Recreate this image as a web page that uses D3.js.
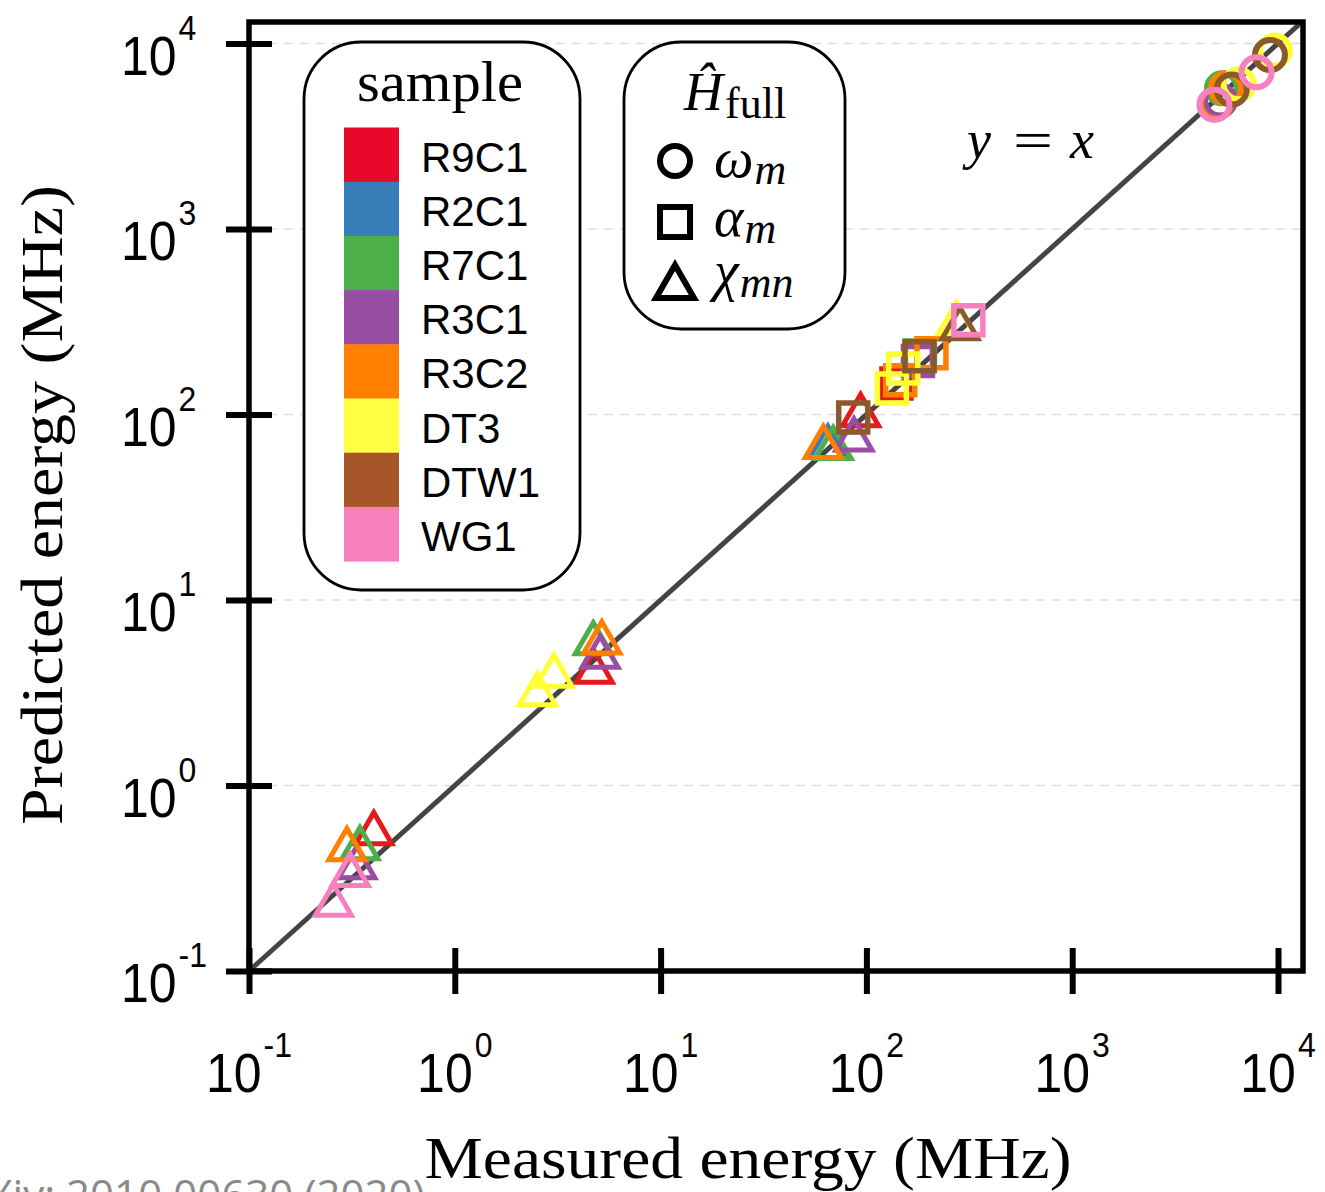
<!DOCTYPE html>
<html><head><meta charset="utf-8">
<script src="https://cdn.jsdelivr.net/npm/d3@7"></script>
<style>body{margin:0;background:#fff;} svg{display:block;}</style>
</head><body><svg id="chart" width="1325" height="1192"></svg>
<script>
// ---------------- data ----------------
const samples = ["R9C1","R2C1","R7C1","R3C1","R3C2","DT3","DTW1","WG1"];
const swatchColors = ["#e8092a","#377eb8","#4daf4a","#984ea3","#ff7f00","#ffff44","#a65628","#f781bf"];
const markerColors = ["#e41a1c","#377eb8","#4daf4a","#984ea3","#ff7f00","#ffff33","#8b5a2b","#f781bf"];
// [measured, predicted] in MHz, one list per sample (same order as samples)
const omegaM = [
  [], [], [[5340,5730]], [[5230,4930]], [[5590,5730],[5000,4750]],
  [[9660,9160],[6440,6030]], [[9140,8670],[5960,5650]], [[7870,7000],[4910,4670]]
];
const alphaM = [
  [[140,147]], [], [[182,208]], [[178,194]], [[207,214],[146,153]],
  [[151,177],[133,138]], [[181,206],[86.3,96.2]], [[313,322]]
];
const chiMN = [
  [[93.7,99],[4.76,4.10],[0.404,0.552]], [[65,66.8]],
  [[69,65.8],[4.71,5.83],[0.346,0.458]], [[87,73.3],[5.08,4.93],[0.334,0.362]],
  [[61.8,66.8],[5.18,5.90],[0.299,0.453]], [[274,310],[3.03,3.90],[2.52,3.10]],
  [[285,291]], [[0.310,0.329],[0.257,0.227]]
];
const tickValues = [0.1,1,10,100,1000,10000];
const tickExponents = ["-1","0","1","2","3","4"];
const shapeNames = ["ω","α","χ"];
const shapeSubs = ["m","m","mn"];

// ---------------- layout ----------------
const svg = d3.select("#chart");
const L = 249, R = 1303, T = 22, B = 971;
const x = d3.scaleLog().domain([0.1, 10000]).range([L, 1278]);
const y = d3.scaleLog().domain([0.1, 10000]).range([B, 43.5]);
const SANS = "'Liberation Sans', Arial, sans-serif";
const SERIF = "'Liberation Serif', 'Times New Roman', serif";

svg.append("rect").attr("width",1325).attr("height",1192).attr("fill","#fff");

svg.append("defs").append("clipPath").attr("id","plotclip")
  .append("rect").attr("x",L).attr("y",T).attr("width",R-L).attr("height",B-T);

// gridlines
svg.append("g").selectAll("line").data(tickValues.slice(1)).join("line")
  .attr("x1",L+3).attr("x2",R-3).attr("y1",d=>y(d)).attr("y2",d=>y(d))
  .attr("stroke","#dedede").attr("stroke-width",1.5).attr("stroke-dasharray","9,7");

// y = x line
const xMax = x.invert(R), yMax = y.invert(T);
const lm = Math.max(xMax, yMax);
svg.append("line").attr("clip-path","url(#plotclip)")
  .attr("x1",x(0.1)).attr("y1",y(0.1)).attr("x2",x(lm)).attr("y2",y(lm))
  .attr("stroke","#444").attr("stroke-width",5);

// markers
const symCircle = d3.symbol(d3.symbolCircle, Math.PI*15*15)();
const symSquare = d3.symbol(d3.symbolSquare, 29*29)();
const symTri = d3.symbol(d3.symbolTriangle, Math.sqrt(3)/4*36*36)();
const markG = svg.append("g");
samples.forEach((s,i)=>{
  const g = markG.append("g").attr("fill","none").attr("stroke",markerColors[i])
    .attr("stroke-linejoin","miter");
  [[omegaM,symCircle,6],[alphaM,symSquare,5.5],[chiMN,symTri,5]].forEach(([arr,sym,sw])=>{
    g.selectAll(null).data(arr[i]).join("path")
      .attr("d",sym).attr("stroke-width",sw)
      .attr("transform",d=>`translate(${x(d[0])},${y(d[1])})`);
  });
});

// frame
svg.append("rect").attr("x",L).attr("y",T).attr("width",R-L).attr("height",B-T)
  .attr("fill","none").attr("stroke","#000").attr("stroke-width",5.5);

// axes (ticks crossing the axis line)
const xAxis = svg.append("g").attr("transform",`translate(0,${B})`)
  .call(d3.axisBottom(x).tickValues(tickValues).tickSizeInner(23).tickSizeOuter(0).tickFormat(()=>""));
xAxis.select(".domain").remove();
xAxis.selectAll(".tick line").attr("y1",-23).attr("y2",23).attr("stroke","#000").attr("stroke-width",6);
const yAxis = svg.append("g").attr("transform",`translate(${L},0)`)
  .call(d3.axisLeft(y).tickValues(tickValues).tickSizeInner(23).tickSizeOuter(0).tickFormat(()=>""));
yAxis.select(".domain").remove();
yAxis.selectAll(".tick line").attr("x1",-23).attr("x2",23).attr("stroke","#000").attr("stroke-width",6);

// tick labels
const sy = 1.12;
tickValues.forEach((v,i)=>{
  const t = svg.append("text").attr("font-family",SANS).attr("font-size",50).attr("fill","#000")
    .attr("text-anchor","middle")
    .attr("transform",`translate(${x(v)},1092) scale(1,${sy})`);
  t.append("tspan").text("10");
  t.append("tspan").attr("font-size",32).attr("dy",-35/sy).attr("dx",2).text(tickExponents[i]);
  const u = svg.append("text").attr("font-family",SANS).attr("font-size",50).attr("fill","#000")
    .attr("transform",`translate(121,${y(v)+31}) scale(1,${sy})`);
  u.append("tspan").text("10");
  u.append("tspan").attr("font-size",32).attr("dy",-35/sy).attr("dx",2).text(tickExponents[i]);
});

// axis titles
svg.append("text").attr("x",748).attr("y",1178).attr("text-anchor","middle")
  .attr("font-family",SERIF).attr("font-size",60).attr("textLength",647).attr("lengthAdjust","spacingAndGlyphs")
  .text("Measured energy (MHz)");
svg.append("text").attr("transform","translate(62,505) rotate(-90)").attr("text-anchor","middle")
  .attr("font-family",SERIF).attr("font-size",60).attr("textLength",640).attr("lengthAdjust","spacingAndGlyphs")
  .text("Predicted energy (MHz)");

// legend 1 : samples
const lg1 = svg.append("g");
lg1.append("rect").attr("x",304).attr("y",42).attr("width",276).attr("height",548).attr("rx",57).attr("ry",57)
  .attr("fill","#fff").attr("stroke","#000").attr("stroke-width",2.8);
lg1.append("text").attr("x",440).attr("y",101).attr("text-anchor","middle").attr("font-family",SERIF)
  .attr("font-size",56).attr("textLength",166).attr("lengthAdjust","spacingAndGlyphs").text("sample");
const swH = 54.2, sw0 = 127.5;
samples.forEach((s,i)=>{
  lg1.append("rect").attr("x",344).attr("y",sw0+i*swH).attr("width",55).attr("height",swH+0.5)
    .attr("fill",swatchColors[i]);
  lg1.append("text").attr("x",421).attr("y",sw0+i*swH+swH/2+17).attr("font-family",SANS)
    .attr("font-size",42).text(s);
});

// legend 2 : shapes
const lg2 = svg.append("g");
lg2.append("rect").attr("x",624).attr("y",42).attr("width",221).attr("height",287).attr("rx",57).attr("ry",57)
  .attr("fill","#fff").attr("stroke","#000").attr("stroke-width",2.8);
const ht = lg2.append("text").attr("x",684).attr("y",110).attr("font-family",SERIF);
ht.append("tspan").attr("font-style","italic").attr("font-size",54).text("Ĥ");
ht.append("tspan").attr("font-size",44).attr("dy",8).attr("dx",2).text("full");
const legSyms = [
  d3.symbol(d3.symbolCircle, Math.PI*15*15)(),
  d3.symbol(d3.symbolSquare, 30*30)(),
  d3.symbol(d3.symbolTriangle, Math.sqrt(3)/4*38*38)()
];
const legY = [161,222,287];
const legBase = [177,236,290];
legSyms.forEach((p,i)=>{
  lg2.append("path").attr("d",p).attr("transform",`translate(675,${legY[i]})`)
    .attr("fill","none").attr("stroke","#000").attr("stroke-width",6);
  const t = lg2.append("text").attr("x",714).attr("y",legBase[i]).attr("font-family",SERIF).attr("font-style","italic");
  t.append("tspan").attr("font-size",56).text(shapeNames[i]);
  t.append("tspan").attr("font-size",44).attr("dy",7).attr("dx",1).text(shapeSubs[i]);
});

// y = x annotation
svg.append("text").attr("x",967).attr("y",158).attr("font-family",SERIF).attr("font-style","italic")
  .attr("font-size",54).text("y");
svg.append("text").attr("x",1013).attr("y",158).attr("font-family",SERIF)
  .attr("font-size",52).attr("textLength",40).attr("lengthAdjust","spacingAndGlyphs").text("=");
svg.append("text").attr("x",1070).attr("y",158).attr("font-family",SERIF).attr("font-style","italic")
  .attr("font-size",54).text("x");

// source watermark (cut off at the bottom edge, as in the reference)
svg.append("text").attr("x",425).attr("y",1210).attr("text-anchor","end").attr("font-family","'Open Sans', sans-serif")
  .attr("font-size",42).attr("fill","#8a8a8a").text("arXiv: 2010.00630 (2020)");
</script></body></html>
